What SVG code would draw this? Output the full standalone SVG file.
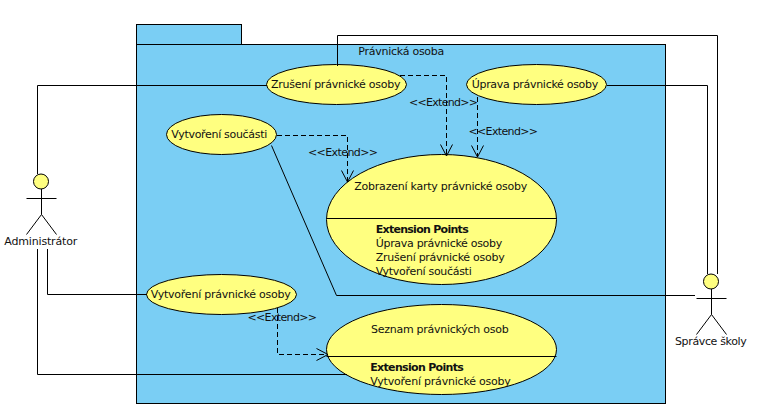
<svg xmlns="http://www.w3.org/2000/svg" width="761" height="418" viewBox="0 0 761 418">
<style>
text{font-family:"DejaVu Sans",sans-serif;font-size:11px;fill:#111}
.b{font-weight:bold}
.pkg{fill:#7ACEF4;stroke:#000;stroke-width:1}
.uc{fill:#FFFF80;stroke:#000;stroke-width:1}
.ln{fill:none;stroke:#000;stroke-width:1}
.da{fill:none;stroke:#000;stroke-width:1;stroke-dasharray:5 3}
.ah{fill:none;stroke:#000;stroke-width:1}
.head{fill:#FFFF80;stroke:#000;stroke-width:1}
</style>
<rect width="761" height="418" fill="#fff"/>
<g id="package">
<rect class="pkg" x="136.5" y="24.5" width="105" height="20"/>
<rect class="pkg" x="136.5" y="44.5" width="529" height="359"/>
<text x="358.3" y="55" textLength="86">Právnická osoba</text>
</g>
<g id="uc-zruseni">
<ellipse class="uc" cx="336.5" cy="84.5" rx="70" ry="20"/>
<text x="271" y="88" textLength="129.5">Zrušení právnické osoby</text>
</g>
<g id="uc-uprava">
<ellipse class="uc" cx="536.5" cy="84.5" rx="70" ry="20"/>
<text x="471.7" y="88" textLength="126.5">Úprava právnické osoby</text>
</g>
<g id="uc-soucast">
<ellipse class="uc" cx="221.5" cy="134.5" rx="55" ry="20"/>
<text x="171.3" y="138.3" textLength="96">Vytvoření součásti</text>
</g>
<g id="uc-karta">
<ellipse class="uc" cx="441.5" cy="219.5" rx="115" ry="65"/>
<line class="ln" x1="326.5" y1="218.5" x2="556.5" y2="218.5"/>
<text x="354.3" y="190" textLength="173">Zobrazení karty právnické osoby</text>
<text class="b" x="375.7" y="232.7" textLength="93">Extension Points</text>
<text x="375.7" y="246.7" textLength="126.5">Úprava právnické osoby</text>
<text x="375.7" y="260.7" textLength="129">Zrušení právnické osoby</text>
<text x="375.7" y="274.7" textLength="96">Vytvoření součásti</text>
</g>
<g id="uc-vytvoreni">
<ellipse class="uc" cx="221.5" cy="294.5" rx="75" ry="20"/>
<text x="150.7" y="298" textLength="140">Vytvoření právnické osoby</text>
</g>
<g id="uc-seznam">
<ellipse class="uc" cx="441.5" cy="349.5" rx="115" ry="45"/>
<line class="ln" x1="326.5" y1="356.5" x2="556.5" y2="356.5"/>
<text x="371" y="332.7" textLength="137.7">Seznam právnických osob</text>
<text class="b" x="370.3" y="370.7" textLength="93.5">Extension Points</text>
<text x="370.3" y="384.7" textLength="140.5">Vytvoření právnické osoby</text>
</g>
<g id="actor-admin">
<circle class="head" cx="41" cy="181.5" r="7.5"/>
<path class="ln" d="M41.5 189V214.5M26.5 198.5H56.5M26.5 234.5L41.5 214.5L56.5 234.5"/>
<text x="4.3" y="245" textLength="73">Administrátor</text>
</g>
<g id="actor-spravce">
<circle class="head" cx="711" cy="281.5" r="7.5"/>
<path class="ln" d="M711.5 289V314.5M696.5 298.5H726.5M696.5 334.5L711.5 314.5L726.5 334.5"/>
<text x="675" y="345" textLength="71.7">Správce školy</text>
</g>
<g id="connectors">
<path class="ln" d="M37.5 174V85.5H267"/>
<path class="ln" d="M47.5 249V294.5H147"/>
<path class="ln" d="M37.5 249V374.5H347"/>
<path class="ln" d="M337.5 66V35.5H717.5V274"/>
<path class="ln" d="M607 85.5H707.5V274"/>
<path class="ln" d="M271.5 145.5L336.5 295.5H695"/>
<path class="da" d="M400 75.5H446.5V156"/>
<path class="ah" d="M440.5 144.5L446.5 156L452.5 144.5"/>
<path class="da" d="M477.5 97V157"/>
<path class="ah" d="M471.5 145.5L477.5 157L483.5 145.5"/>
<path class="da" d="M277 135.5H347.5V182"/>
<path class="ah" d="M341.5 170.5L347.5 182L353.5 170.5"/>
<path class="da" d="M277.5 308V354.5H328"/>
<path class="ah" d="M316.5 348.5L328 354.5L316.5 360.5"/>
<text x="308" y="156" textLength="70">&lt;&lt;Extend&gt;&gt;</text>
<text x="409" y="106" textLength="69">&lt;&lt;Extend&gt;&gt;</text>
<text x="468.5" y="135" textLength="69.5">&lt;&lt;Extend&gt;&gt;</text>
<text x="247.5" y="321" textLength="69.5">&lt;&lt;Extend&gt;&gt;</text>
</g>
</svg>
